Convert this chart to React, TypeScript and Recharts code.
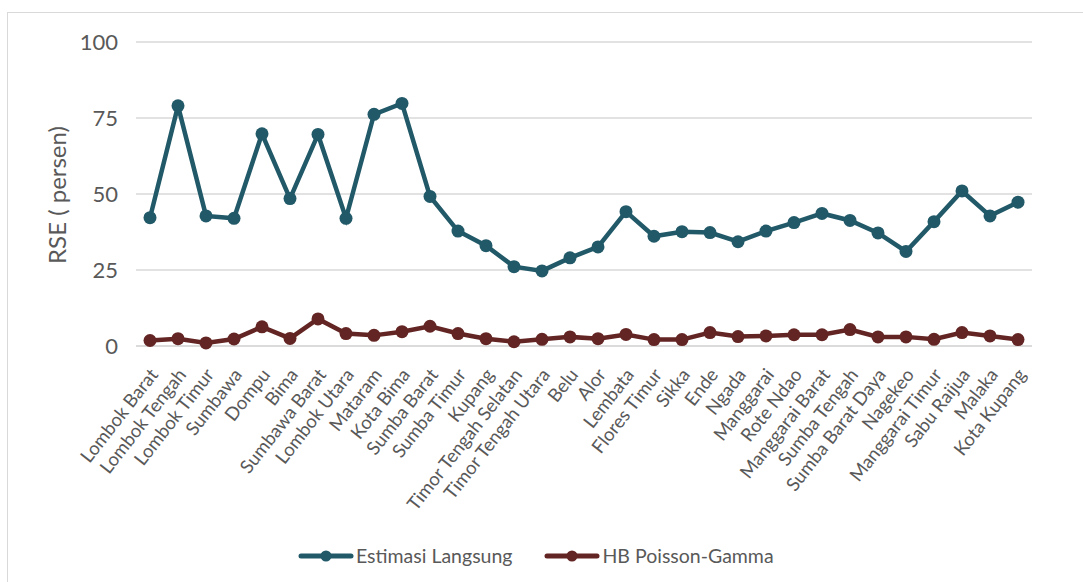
import React from 'react';
import { LineChart, Line, XAxis, YAxis, CartesianGrid } from 'recharts';

const categories = [
  'Lombok Barat', 'Lombok Tengah', 'Lombok Timur', 'Sumbawa', 'Dompu', 'Bima',
  'Sumbawa Barat', 'Lombok Utara', 'Mataram', 'Kota Bima', 'Sumba Barat', 'Sumba Timur',
  'Kupang', 'Timor Tengah Selatan', 'Timor Tengah Utara', 'Belu', 'Alor', 'Lembata',
  'Flores Timur', 'Sikka', 'Ende', 'Ngada', 'Manggarai', 'Rote Ndao', 'Manggarai Barat',
  'Sumba Tengah', 'Sumba Barat Daya', 'Nagekeo', 'Manggarai Timur', 'Sabu Raijua',
  'Malaka', 'Kota Kupang',
];

const estimasiLangsung = [
  42.2, 79.0, 42.8, 42.0, 69.8, 48.5, 69.6, 42.0, 76.2, 79.8, 49.2, 37.8,
  33.0, 26.1, 24.7, 29.0, 32.6, 44.2, 36.1, 37.6, 37.3, 34.3, 37.8, 40.6,
  43.6, 41.3, 37.2, 31.1, 40.9, 51.0, 42.8, 47.3,
];

const hbPoissonGamma = [
  1.8, 2.4, 1.0, 2.3, 6.3, 2.5, 8.9, 4.1, 3.5, 4.7, 6.5, 4.1,
  2.4, 1.4, 2.2, 3.0, 2.4, 3.8, 2.1, 2.1, 4.4, 3.1, 3.3, 3.7,
  3.7, 5.4, 3.0, 3.0, 2.2, 4.4, 3.3, 2.1,
];

const yTicks = [0, 25, 50, 75, 100];

const seriesNames = ['Estimasi Langsung', 'HB Poisson-Gamma'];
const seriesColors = ['#215968', '#632523'];

const data = categories.map((c, i) => ({
  name: c,
  est: estimasiLangsung[i],
  hb: hbPoissonGamma[i],
}));

const FONT = 'Lato, "Open Sans", sans-serif';
const TEXT = '#595959';

const XTick = (props: any) => {
  const { x, y, payload } = props;
  const ax = x + 9;
  const ay = y + 21;
  return (
    <text
      x={ax}
      y={ay}
      textAnchor="end"
      fontFamily={FONT}
      fontSize={18.5}
      fill={TEXT}
      transform={`rotate(-52, ${ax}, ${ay})`}
    >
      {payload.value}
    </text>
  );
};

const YTick = (props: any) => {
  const { y, payload } = props;
  return (
    <text x={118} y={y + 8} textAnchor="end" fontFamily={FONT} fontSize={22} fill={TEXT}>
      {payload.value}
    </text>
  );
};

const YLabel = () => (
  <text
    x={66}
    y={195}
    textAnchor="middle"
    fontFamily={FONT}
    fontSize={24}
    fill={TEXT}
    transform="rotate(-90, 66, 195)"
  >
    RSE ( persen)
  </text>
);

const LegendItem = ({ name, color, gap }: { name: string; color: string; gap: number }) => (
  <div style={{ display: 'flex', alignItems: 'center', marginRight: gap }}>
    <svg width={56} height={14} style={{ marginRight: 2 }}>
      <line x1={3} y1={7} x2={53} y2={7} stroke={color} strokeWidth={5} strokeLinecap="round" />
      <circle cx={28} cy={7} r={5.5} fill={color} />
    </svg>
    <span style={{ fontFamily: FONT, fontSize: 19.5, color: TEXT, lineHeight: '24px' }}>{name}</span>
  </div>
);

export default function App() {
  return (
    <div style={{ position: 'fixed', left: 0, top: 0, width: 1083, height: 582, background: '#fff', overflow: 'hidden' }}>
      <div
        style={{
          position: 'absolute',
          left: 7,
          top: 12,
          width: 1090,
          height: 600,
          border: '1px solid #d9d9d9',
          boxSizing: 'border-box',
        }}
      />
      <div style={{ position: 'absolute', left: 0, top: 0 }}>
        <LineChart
          width={1083}
          height={582}
          data={data}
          margin={{ top: 42, right: 51, bottom: 0, left: 0 }}
        >
          <CartesianGrid vertical={false} stroke="#d9d9d9" strokeWidth={1.5} />
          <XAxis
            dataKey="name"
            interval={0}
            padding={{ left: 14, right: 14 }}
            axisLine={{ stroke: '#d9d9d9', strokeWidth: 1.5 }}
            tickLine={false}
            tick={<XTick />}
            height={236}
          />
          <YAxis
            domain={[0, 100]}
            ticks={yTicks}
            width={136}
            axisLine={false}
            tickLine={false}
            tick={<YTick />}
            label={<YLabel />}
          />
          <Line
            dataKey="est"
            name={seriesNames[0]}
            stroke={seriesColors[0]}
            strokeWidth={4.5}
            dot={{ r: 6.5, fill: seriesColors[0], stroke: seriesColors[0], strokeWidth: 0 }}
            isAnimationActive={false}
          />
          <Line
            dataKey="hb"
            name={seriesNames[1]}
            stroke={seriesColors[1]}
            strokeWidth={4.5}
            dot={{ r: 6.5, fill: seriesColors[1], stroke: seriesColors[1], strokeWidth: 0 }}
            isAnimationActive={false}
          />
        </LineChart>
      </div>
      <div
        style={{
          position: 'absolute',
          left: 298,
          top: 544,
          display: 'flex',
          alignItems: 'center',
        }}
      >
        <LegendItem name={seriesNames[0]} color={seriesColors[0]} gap={32} />
        <LegendItem name={seriesNames[1]} color={seriesColors[1]} gap={0} />
      </div>
    </div>
  );
}
